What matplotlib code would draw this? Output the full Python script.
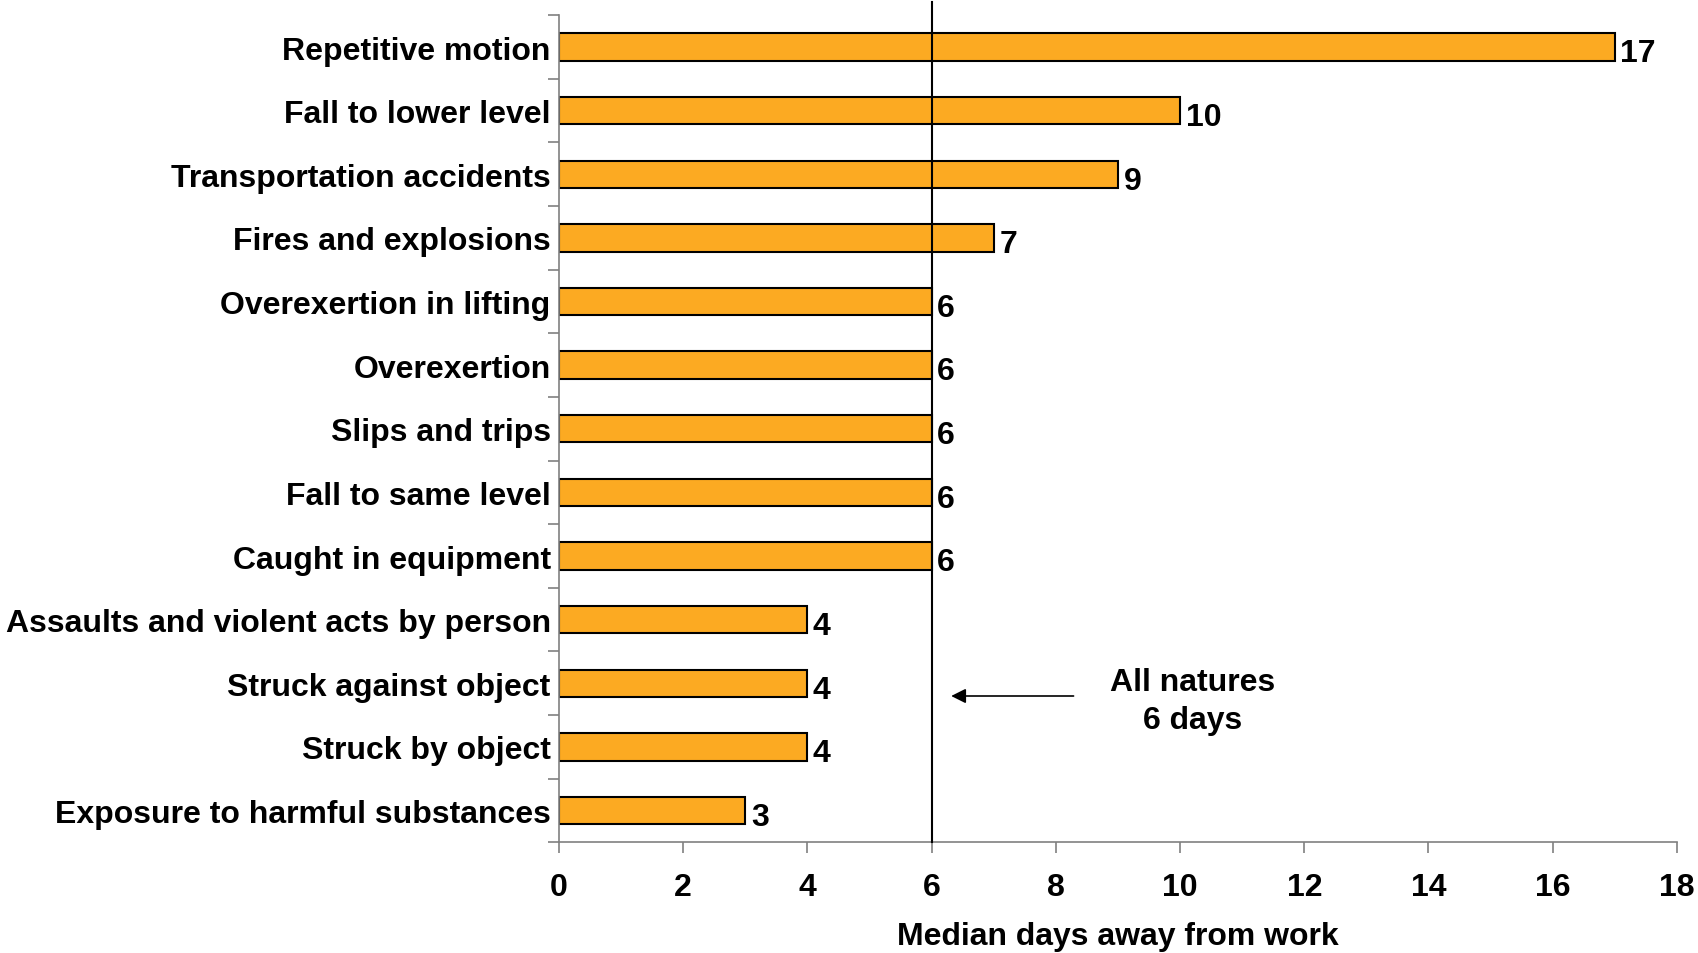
import matplotlib.pyplot as plt
import numpy as np

plt.rcParams['font.family'] = ['Liberation Sans', 'DejaVu Sans']
plt.rcParams['font.weight'] = 'bold'

categories = ["Repetitive motion", "Fall to lower level", "Transportation accidents",
              "Fires and explosions", "Overexertion in lifting", "Overexertion",
              "Slips and trips", "Fall to same level", "Caught in equipment",
              "Assaults and violent acts by person", "Struck against object",
              "Struck by object", "Exposure to harmful substances"]
days = [17, 10, 9, 7, 6, 6, 6, 6, 6, 4, 4, 4, 3]
all_natures = 6
xticks = [0, 2, 4, 6, 8, 10, 12, 14, 16, 18]

fs = 23

fig = plt.figure(dpi=100, figsize=(16.99, 9.54))
ax = fig.add_axes([0.329, 0.116, 0.658, 0.867])

y = np.arange(len(categories))
ax.barh(y, days, height=0.43, color='#FCAA22', edgecolor='black', linewidth=1.5, zorder=2)

for yi, v in zip(y, days):
    ax.annotate(str(v), (v, yi), xytext=(4, -4.5), textcoords='offset points',
                ha='left', va='center', fontsize=fs, fontweight='bold')

ax.axvline(all_natures, ymin=0, ymax=1.016, color='black', linewidth=1.5, clip_on=False, zorder=3)
ax.annotate("", xy=(6.27, 10.2), xytext=(8.33, 10.2),
            arrowprops=dict(arrowstyle='-|>', color='black', linewidth=1.2, mutation_scale=22))
ax.text(10.2, 10.28, "All natures\n6 days", ha='center', va='center', fontsize=fs,
        fontweight='bold', linespacing=1.35)

ax.set_xlim(0, 18)
ax.set_ylim(len(categories) - 0.5, -0.5)
ax.set_xticks(xticks)
ax.set_xticklabels([str(t) for t in xticks], fontsize=fs, fontweight='bold')
ax.set_yticks(y)
ax.set_yticklabels(categories, fontsize=fs, fontweight='bold')
ax.set_yticks(np.arange(len(categories) + 1) - 0.5, minor=True)
ax.tick_params(axis='y', which='major', length=0, pad=6)
ax.tick_params(axis='y', which='minor', length=8, color='#808080', width=1.2)
ax.tick_params(axis='x', which='major', length=8, color='#808080', width=1.2, pad=13)
ax.set_xlabel("Median days away from work", fontsize=fs, fontweight='bold', labelpad=14)

for s in ['top', 'right']:
    ax.spines[s].set_visible(False)
for s in ['left', 'bottom']:
    ax.spines[s].set_color('#808080')
    ax.spines[s].set_linewidth(1.2)

plt.savefig("out.png")
